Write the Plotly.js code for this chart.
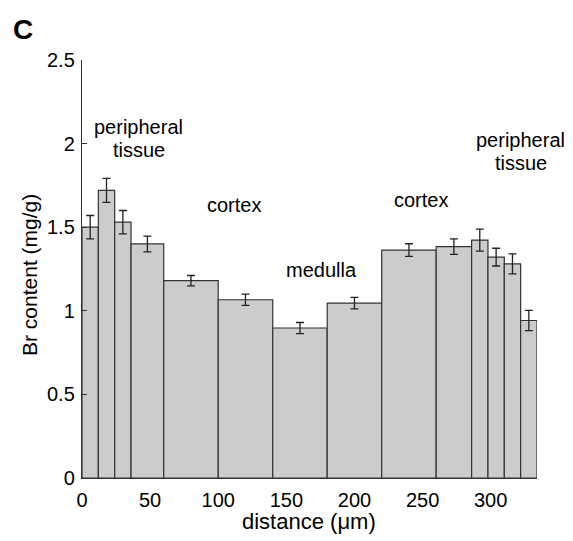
<!DOCTYPE html>
<html>
<head>
<meta charset="utf-8">
<script src="https://cdn.plot.ly/plotly-3.0.1.min.js"></script>
<style>html,body{margin:0;padding:0;background:#fff;}#chart{width:573px;height:541px;}</style>
</head>
<body>
<div id="chart"></div>
<script>
// bin edges (µm)
const binLeft  = [0, 12, 24, 36, 60, 100, 140, 180, 220, 260, 286, 298, 310, 322];
const binRight = [12, 24, 36, 60, 100, 140, 180, 220, 260, 286, 298, 310, 322, 334];
// Br content (mg/g)
const brContent = [1.50, 1.72, 1.53, 1.40, 1.18, 1.066, 0.897, 1.046, 1.363, 1.384, 1.423, 1.321, 1.281, 0.942];
const brError   = [0.07, 0.072, 0.07, 0.047, 0.031, 0.034, 0.033, 0.034, 0.038, 0.046, 0.066, 0.053, 0.06, 0.06];
const xTicks = [0, 50, 100, 150, 200, 250, 300];
const yTicks = [0, 0.5, 1, 1.5, 2, 2.5];
const yTickText = ["0", "0.5", "1", "1.5", "2", "2.5"];
const regionLabels = ["peripheral", "tissue", "cortex", "medulla", "cortex", "peripheral", "tissue"];
const regionX = [41.6, 41.6, 111.6, 175.8, 249.2, 322, 322];
const regionY = [2.097, 1.962, 1.634, 1.246, 1.664, 2.022, 1.885];

const centers = binLeft.map((l, i) => (l + binRight[i]) / 2);
const widths = binLeft.map((l, i) => binRight[i] - l);

const font = "Liberation Sans, Arial, sans-serif";

const trace = {
  type: "bar",
  x: centers,
  y: brContent,
  width: widths,
  marker: { color: "#cccccc", line: { color: "#333333", width: 1.2 } },
  error_y: { type: "data", array: brError, visible: true, color: "#222222", thickness: 1.3, width: 4 },
  hoverinfo: "skip"
};

const W = 573, H = 541, M = { l: 82, r: 36, t: 60, b: 63 };
const px2paperX = p => (p - M.l) / (W - M.l - M.r);
const px2paperY = p => (H - M.b - p) / (H - M.t - M.b);

const annFont = { family: font, size: 20, color: "#000" };
const annotations = regionLabels.map((t, i) => ({
  x: regionX[i], y: regionY[i], xref: "x", yref: "y", text: t, showarrow: false,
  xanchor: "center", yanchor: "middle", font: annFont
}));
annotations.push({ x: px2paperX(23), y: px2paperY(30), xref: "paper", yref: "paper", text: "<b>C</b>",
  showarrow: false, xanchor: "center", yanchor: "middle", font: { family: font, size: 28, color: "#000" } });
annotations.push({ x: px2paperX(309), y: px2paperY(521), xref: "paper", yref: "paper", text: "distance (μm)",
  showarrow: false, xanchor: "center", yanchor: "middle", font: { family: font, size: 22, color: "#000" } });
annotations.push({ x: px2paperX(29), y: px2paperY(275), xref: "paper", yref: "paper", text: "Br content (mg/g)",
  textangle: -90, showarrow: false, xanchor: "center", yanchor: "middle", font: { family: font, size: 21, color: "#000" } });

const layout = {
  width: W, height: H,
  margin: M,
  paper_bgcolor: "#fff", plot_bgcolor: "#fff",
  showlegend: false,
  bargap: 0,
  xaxis: {
    range: [0, 334], tickvals: xTicks, showgrid: false, zeroline: false,
    showline: true, linecolor: "#333", linewidth: 1.2, ticks: "",
    ticklabelstandoff: 4,
    tickfont: { family: font, size: 20, color: "#000" }
  },
  yaxis: {
    range: [0, 2.5], tickvals: yTicks, ticktext: yTickText, showgrid: false, zeroline: false,
    showline: true, linecolor: "#333", linewidth: 1.2, ticks: "inside", ticklen: 5, tickcolor: "#333",
    ticklabelstandoff: 2,
    tickfont: { family: font, size: 20, color: "#000" }
  },
  annotations: annotations
};

Plotly.newPlot("chart", [trace], layout, { displayModeBar: false, staticPlot: true });
</script>
</body>
</html>
